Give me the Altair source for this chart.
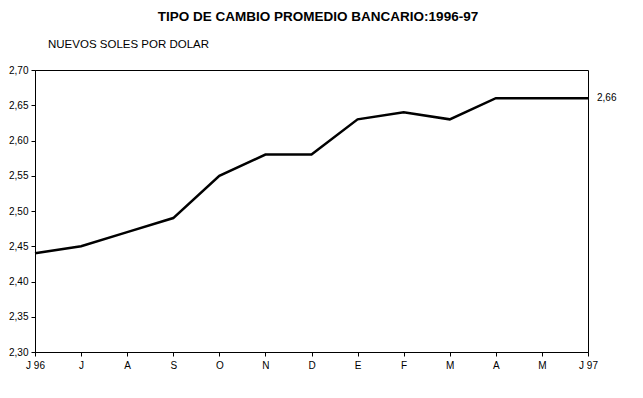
import altair as alt
import pandas as pd

months = ["J 96", "J", "A", "S", "O", "N", "D", "E", "F", "M", "A", "M", "J 97"]
rates = [2.44, 2.45, 2.47, 2.49, 2.55, 2.58, 2.58, 2.63, 2.64, 2.63, 2.66, 2.66, 2.66]
y_ticks = [2.30, 2.35, 2.40, 2.45, 2.50, 2.55, 2.60, 2.65, 2.70]

df = pd.DataFrame({"idx": list(range(len(months))), "label": months, "rate": rates})
last = df.tail(1).copy()
last["txt"] = [f"{v:.2f}".replace(".", ",") for v in last["rate"]]

label_arr = "[" + ",".join(f"'{m}'" for m in months) + "]"

xs = alt.Scale(domain=[0, len(months) - 1], nice=False, zero=False)
ys = alt.Scale(domain=[2.30, 2.70], nice=False, zero=False)

x = alt.X("idx:Q", scale=xs,
          axis=alt.Axis(values=list(range(len(months))), labelExpr=f"{label_arr}[datum.value]",
                        title=None, grid=False, tickSize=4, labelPadding=4,
                        labelFlush=False, labelOverlap=False,
                        labelFont="Liberation Sans", labelFontSize=10, labelColor="black",
                        domainColor="black", tickColor="black"))
y = alt.Y("rate:Q", scale=ys,
          axis=alt.Axis(values=y_ticks,
                        labelExpr="replace(format(datum.value, '.2f'), '.', ',')",
                        title=None, grid=False, tickSize=4, labelPadding=3,
                        labelFlush=False, labelOverlap=False,
                        labelFont="Liberation Sans", labelFontSize=10, labelColor="black",
                        domainColor="black", tickColor="black"))

line = alt.Chart(df).mark_line(color="black", strokeWidth=2.5).encode(x=x, y=y)

ann = alt.Chart(last).mark_text(align="left", dx=9, font="Liberation Sans", fontSize=10,
                                color="black").encode(x=x, y=y, text="txt:N")

sub = alt.Chart(pd.DataFrame({"t": ["NUEVOS SOLES POR DOLAR"]})).mark_text(
    align="left", baseline="middle", font="Liberation Sans", fontSize=11.5, color="black"
).encode(x=alt.value(13), y=alt.value(-25), text="t:N")

ttl = alt.Chart(pd.DataFrame({"t": ["TIPO DE CAMBIO PROMEDIO BANCARIO:1996-97"]})).mark_text(
    align="center", baseline="middle", font="Liberation Sans", fontSize=13.5,
    fontWeight="bold", color="black"
).encode(x=alt.value(283), y=alt.value(-53), text="t:N")

chart = alt.layer(line, ann, sub, ttl).properties(
    width=553, height=282,
    padding={"left": 27, "top": 62, "right": 40, "bottom": 20},
    autosize=alt.AutoSizeParams(type="none"),
).configure(background="white").configure_view(stroke="black", strokeWidth=1)

chart.save("out.html", embed_options={"renderer": "svg", "actions": False})
